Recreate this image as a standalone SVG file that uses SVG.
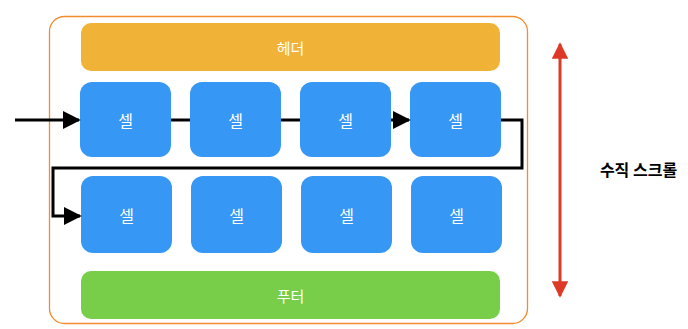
<svg xmlns="http://www.w3.org/2000/svg" width="688" height="329" viewBox="0 0 688 329">
<style>
.cell{fill:#3797F5;}
.t{font-family:"Noto Sans CJK KR","Noto Sans",sans-serif;font-size:16px;fill:#ffffff;text-anchor:middle;dominant-baseline:central;}
.c{fill:none;stroke:#000;stroke-width:3;}
</style>
<defs>
<marker id="ah" viewBox="0 0 10 10" refX="9" refY="5" markerWidth="6" markerHeight="6" markerUnits="strokeWidth" orient="auto"><path d="M0,0 L10,5 L0,10 Z" fill="#000"/></marker>
<marker id="rh" viewBox="0 0 10 10" refX="9" refY="5" markerWidth="5.5" markerHeight="5.5" markerUnits="strokeWidth" orient="auto-start-reverse"><path d="M0,0 L10,5 L0,10 Z" fill="#DC3A26"/></marker>
</defs>
<g id="container"><rect x="49.5" y="16.5" width="478" height="307" rx="15" fill="#fff" stroke="#F28C2E" stroke-width="1.3"/></g>
<g id="header"><rect x="81" y="23" width="419" height="48" rx="10" fill="#F0B237"/><text class="t" x="290.5" y="47" style="font-size:15px">헤더</text></g>
<g id="footer"><rect x="81" y="271" width="419" height="48" rx="10" fill="#78CE49"/><text class="t" x="290.5" y="295" style="font-size:15px">푸터</text></g>
<g id="cell1"><rect class="cell" x="80" y="82" width="91" height="75" rx="12"/><text class="t" x="125.5" y="120">셀</text></g>
<g id="cell2"><rect class="cell" x="190" y="82" width="91" height="75" rx="12"/><text class="t" x="235.5" y="120">셀</text></g>
<g id="cell3"><rect class="cell" x="300" y="82" width="91" height="75" rx="12"/><text class="t" x="345.5" y="120">셀</text></g>
<g id="cell4"><rect class="cell" x="410" y="82" width="91" height="75" rx="12"/><text class="t" x="455.5" y="120">셀</text></g>
<g id="cell5"><rect class="cell" x="81" y="176" width="91" height="77" rx="12"/><text class="t" x="126.5" y="215">셀</text></g>
<g id="cell6"><rect class="cell" x="191" y="176" width="91" height="77" rx="12"/><text class="t" x="236.5" y="215">셀</text></g>
<g id="cell7"><rect class="cell" x="301" y="176" width="91" height="77" rx="12"/><text class="t" x="346.5" y="215">셀</text></g>
<g id="cell8"><rect class="cell" x="411" y="176" width="91" height="77" rx="12"/><text class="t" x="456.5" y="215">셀</text></g>
<g id="connectors">
<line class="c" x1="15" y1="120" x2="79" y2="120" marker-end="url(#ah)"/>
<line class="c" x1="171" y1="120" x2="190" y2="120"/>
<line class="c" x1="281" y1="120" x2="300" y2="120"/>
<line class="c" x1="391" y1="120" x2="409" y2="120" marker-end="url(#ah)"/>
<polyline class="c" points="501,120 522,120 522,168 53,168 53,216 80,216" marker-end="url(#ah)"/>
<line x1="560" y1="44" x2="560" y2="296" stroke="#DC3A26" stroke-width="3" marker-start="url(#rh)" marker-end="url(#rh)"/>
</g>
<text x="638.5" y="169" font-family="'Noto Sans CJK KR','Noto Sans',sans-serif" font-size="16" font-weight="bold" fill="#000" text-anchor="middle" dominant-baseline="central">수직 스크롤</text>
</svg>
